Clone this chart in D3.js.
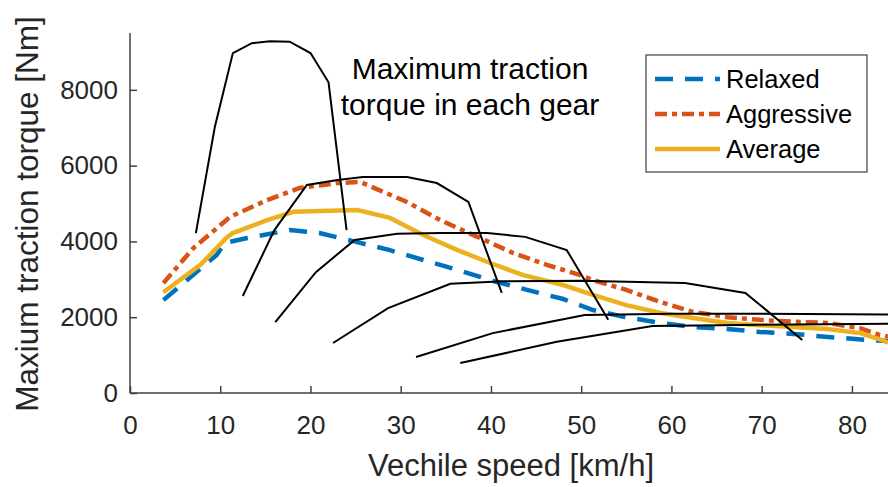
<!DOCTYPE html>
<html>
<head>
<meta charset="utf-8">
<script src="https://cdn.jsdelivr.net/npm/d3@7"></script>
<style>
  body { margin: 0; background: #fff; }
  svg { font-family: 'Liberation Sans', Arial, sans-serif; }
</style>
</head>
<body>
<svg width="888" height="487"></svg>
<script>
// gear envelopes: [speed km/h, torque Nm]
const gear1 = [[7.3, 4220], [9.4, 7020], [11.4, 8970], [13.5, 9230], [15.5, 9280], [17.7, 9270], [20, 8970], [22, 8200], [24, 4300]]
const gear2 = [[12.5, 2560], [16, 4300], [19.6, 5490], [23, 5620], [25.8, 5700], [30.7, 5700], [34, 5540], [37.5, 5040], [41.2, 2640]]
const gear3 = [[16.1, 1870], [20.6, 3190], [24.9, 4040], [29.6, 4200], [34.4, 4220], [39.6, 4220], [43.8, 4120], [48.4, 3770], [53, 1930]]
const gear4 = [[22.5, 1320], [28.6, 2240], [35.5, 2880], [41.4, 2950], [49.9, 2960], [61.5, 2900], [68.2, 2640], [74.5, 1400]]
const gear5 = [[31.7, 950], [40.2, 1580], [50.4, 2060], [60, 2090], [70, 2090], [84, 2070]]
const gear6 = [[36.6, 790], [47.3, 1350], [57.9, 1770], [70, 1800], [84, 1830]]

const relaxed = [[3.7, 2450], [9.6, 3640], [10.5, 3960], [13, 4090], [17.7, 4300], [21, 4220], [25.2, 3980], [28.8, 3770], [32.5, 3510], [36.3, 3250], [39.9, 2980], [44, 2720], [48, 2480], [51.3, 2190], [54.7, 2010], [58.8, 1850], [62.4, 1740], [66.2, 1690], [69.8, 1610], [73.5, 1560], [77.3, 1480], [81.7, 1400], [84, 1370]]
const aggressive = [[3.7, 2900], [7, 3820], [11.1, 4650], [15.2, 5090], [18.8, 5410], [23, 5540], [25.5, 5570], [30.7, 5040], [34.4, 4560], [38.5, 4120], [42.5, 3690], [46.2, 3380], [49.9, 3110], [51.3, 2980], [55, 2720], [58.8, 2400], [62.4, 2140], [66.2, 2000], [69.8, 1930], [73.5, 1880], [77.3, 1850], [80.9, 1710], [83.1, 1530], [84, 1490]]
const average = [[3.7, 2660], [7.8, 3380], [10.7, 4100], [11.4, 4220], [15.2, 4560], [18.1, 4780], [25.2, 4830], [28.8, 4620], [32.5, 4170], [36.3, 3770], [39.9, 3430], [43.6, 3110], [48, 2850], [51.3, 2590], [55, 2320], [58.8, 2110], [62.4, 1980], [66.2, 1850], [69.8, 1790], [73.5, 1740], [77.3, 1690], [80.9, 1580], [83.5, 1380], [84, 1330]]

const xTicks = [0, 10, 20, 30, 40, 50, 60, 70, 80]
const yTicks = [0, 2000, 4000, 6000, 8000]
const legendNames = ['Relaxed', 'Aggressive', 'Average']

let plotLeft = 130
let plotRight = 888
let plotTop = 33
let plotBottom = 393

let xScale = d3.scaleLinear().domain([0, 84]).range([plotLeft, plotRight])
let yScale = d3.scaleLinear().domain([0, 9500]).range([plotBottom, plotTop])

let svg = d3.select('svg')

let line = d3.line()
  .x(d => xScale(d[0]))
  .y(d => yScale(d[1]))

// driver curves (drawn first, gear lines on top)
let styles = [
  { data: relaxed, color: '#0072BD', dash: '18,12' },
  { data: aggressive, color: '#D95319', dash: '12,5,5,5' },
  { data: average, color: '#EDB120', dash: null }
]

styles.forEach(s => {
  svg.append('path')
    .attr('d', line(s.data))
    .attr('fill', 'none')
    .attr('stroke', s.color)
    .attr('stroke-width', 4.5)
    .attr('stroke-dasharray', s.dash)
})

// gear envelopes
;[gear1, gear2, gear3, gear4, gear5, gear6].forEach(g => {
  svg.append('path')
    .attr('d', line(g))
    .attr('fill', 'none')
    .attr('stroke', '#000')
    .attr('stroke-width', 2)
})

// axes, ticks pointing inward
let xAxis = d3.axisBottom(xScale)
  .tickValues(xTicks)
  .tickFormat(d3.format('d'))
  .tickSize(-7)
  .tickSizeOuter(0)
  .tickPadding(23)

let yAxis = d3.axisLeft(yScale)
  .tickValues(yTicks)
  .tickFormat(d3.format('d'))
  .tickSize(-7)
  .tickSizeOuter(0)
  .tickPadding(12)

let gx = svg.append('g')
  .attr('transform', `translate(0, ${plotBottom})`)
  .call(xAxis)

let gy = svg.append('g')
  .attr('transform', `translate(${plotLeft}, 0)`)
  .call(yAxis)

;[gx, gy].forEach(g => {
  g.select('.domain').attr('stroke', '#404040').attr('stroke-width', 1.5)
  g.selectAll('.tick line').attr('stroke', '#404040').attr('stroke-width', 1.5)
  g.selectAll('.tick text')
    .attr('fill', '#262626')
    .style('font-size', '26px')
    .style('font-family', "'Liberation Sans', Arial, sans-serif")
})
gx.select('.domain').attr('d', `M${plotLeft},0H${plotRight}`)
gy.select('.domain').attr('d', `M0,${plotBottom}V${plotTop}`)

// axis labels
svg.append('text')
  .attr('x', 511)
  .attr('y', 476)
  .attr('text-anchor', 'middle')
  .attr('fill', '#262626')
  .style('font-size', '31px')
  .text('Vechile speed [km/h]')

svg.append('text')
  .attr('transform', 'rotate(-90)')
  .attr('x', -214)
  .attr('y', 38)
  .attr('text-anchor', 'middle')
  .attr('fill', '#262626')
  .style('font-size', '31.5px')
  .text('Maxium traction torque [Nm]')

// annotation
svg.append('text')
  .attr('x', 470)
  .attr('y', 79)
  .attr('text-anchor', 'middle')
  .attr('fill', '#000')
  .style('font-size', '30px')
  .text('Maximum traction')

svg.append('text')
  .attr('x', 470)
  .attr('y', 115)
  .attr('text-anchor', 'middle')
  .attr('fill', '#000')
  .style('font-size', '30px')
  .text('torque in each gear')

// legend
let legend = svg.append('g')

legend.append('rect')
  .attr('x', 646)
  .attr('y', 55)
  .attr('width', 221)
  .attr('height', 117)
  .attr('fill', '#fff')
  .attr('stroke', '#404040')
  .attr('stroke-width', 1.2)

legendNames.forEach((name, i) => {
  let cy = 79 + i * 35
  legend.append('line')
    .attr('x1', 655)
    .attr('x2', 720)
    .attr('y1', cy)
    .attr('y2', cy)
    .attr('stroke', styles[i].color)
    .attr('stroke-width', 4.5)
    .attr('stroke-dasharray', styles[i].dash)
  legend.append('text')
    .attr('x', 726)
    .attr('y', cy + 9)
    .attr('fill', '#000')
    .style('font-size', '25.5px')
    .text(name)
})
</script>
</body>
</html>
